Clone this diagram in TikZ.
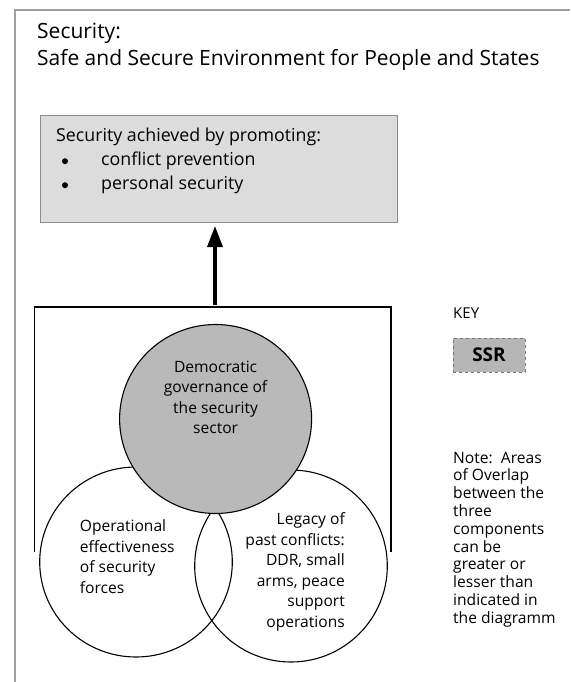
\documentclass[tikz,border=0pt]{standalone}
\usepackage{fontspec}
\setmainfont{Open Sans}
\usetikzlibrary{shapes.geometric,arrows.meta}
\definecolor{framegray}{RGB}{160,160,160}
\definecolor{boxfill}{RGB}{220,220,220}
\definecolor{boxline}{RGB}{140,140,140}
\definecolor{circfill}{RGB}{185,185,185}
\definecolor{ssrfill}{RGB}{182,182,182}
\definecolor{ssrline}{RGB}{120,120,120}
\begin{document}
\begin{tikzpicture}[x=1pt,y=-1pt,
  titletext/.style={anchor=base west, inner sep=0, font=\fontsize{21}{28}\selectfont},
  boxtext/.style={anchor=base west, inner sep=0, font=\fontsize{17.8}{24}\selectfont},
  bulletdot/.style={circle, fill=black, inner sep=0, minimum size=6pt},
  circtext/.style={inner sep=0, font=\fontsize{15.6}{20.5}\selectfont},
  notetext/.style={inner sep=0, font=\fontsize{15.6}{17.8}\selectfont},
  venn/.style={ellipse, draw=black, line width=1.1pt, inner sep=0},
  bracketline/.style={line width=1.1pt}
]
\useasboundingbox (0,0) rectangle (570,682);
\fill[white] (0,0) rectangle (570,682);
% outer frame
\coordinate (fb) at (15,682);
\coordinate (ftl) at (15,10);
\coordinate (fr) at (570,10);
\draw[framegray, line width=2.5pt] (fb) -- (ftl) -- (fr);
% title
\node[titletext] (t1) at (37,38.3) {Security:};
\node[titletext] (t2) at (37,65.7) {Safe and Secure Environment for People and States};
% goal box
\node[draw=boxline, fill=boxfill, line width=1pt, minimum width=357pt, minimum height=107pt, anchor=north west, inner sep=0] (goal) at (40,115) {};
\node[boxtext] (g1) at (56,141.7) {Security achieved by promoting:};
\node[bulletdot] (b1) at (65,161.2) {};
\node[boxtext] (g2) at (101,165.7) {conflict prevention};
\node[bulletdot] (b2) at (65,185.2) {};
\node[boxtext] (g3) at (101,189.7) {personal security};
% bracket
\coordinate (bl) at (34.3,552);
\coordinate (tl) at (34.3,307);
\coordinate (tr) at (391,307);
\coordinate (br) at (391,552);
\draw[bracketline] (bl) -- (tl) -- (tr) -- (br);
% arrow
\coordinate (abase) at (215,305);
\coordinate (atip) at (215,226);
\draw[line width=3.5pt, -{Triangle[length=21pt,width=15pt]}] (abase) -- (atip);
% circles
\node[venn, minimum width=192.6pt, minimum height=190pt] (ops) at (136,562) {};
\node[venn, minimum width=192.6pt, minimum height=192pt] (leg) at (291,566) {};
\node[venn, fill=circfill, minimum width=192pt, minimum height=189pt] (gov) at (215.6,419) {};
\node[circtext, align=center] (govt) at (215.6,397.5) {Democratic\\governance of\\the security\\sector};
\node[circtext, align=left, anchor=west] (opst) at (79.7,556.5) {Operational\\effectiveness\\of security\\forces};
\node[circtext, align=right, anchor=east] (legt) at (345,572) {Legacy of\\past conflicts:\\DDR, small\\arms, peace\\support\\operations};
% key
\node[notetext, anchor=west, font=\fontsize{15}{18}\selectfont] (key) at (453,313) {KEY};
\node[draw=ssrline, dashed, fill=ssrfill, line width=1pt, minimum width=72pt, minimum height=34pt, inner sep=0, font=\fontsize{19}{20}\selectfont\bfseries] (ssr) at (489,355) {SSR};
\node[notetext, align=left, anchor=west] (note) at (453,539.5) {Note:\ \ Areas\\of Overlap\\between the\\three\\components\\can be\\greater or\\lesser than\\indicated in\\the diagramm};
\end{tikzpicture}
\end{document}
